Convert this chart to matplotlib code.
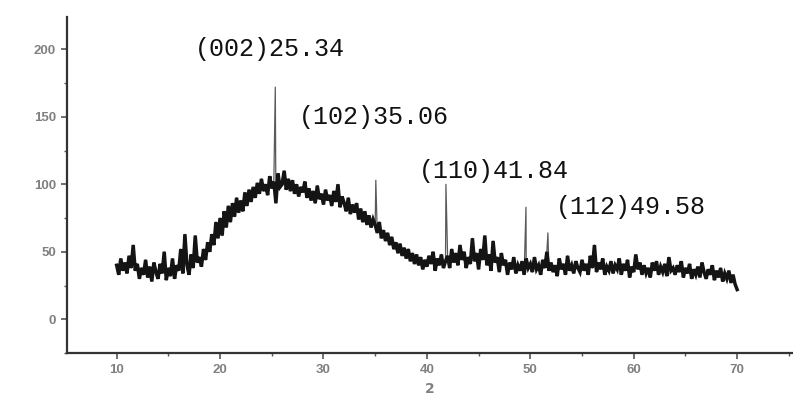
import numpy as np
import matplotlib.pyplot as plt
from matplotlib.ticker import MultipleLocator

# 2theta grid (0.2 deg steps, 10..70) and intensities
two_theta = np.round(np.arange(10.0, 70.01, 0.2), 1)
intensity = [
    40, 33, 45, 36, 42,   34, 47, 38, 55, 36,   41, 30, 38, 33, 44,   # 10-12
    31, 39, 28, 42, 35,   30, 41, 34, 50, 29,   38, 32, 45, 30, 40,   # 13-15
    36, 52, 34, 63, 40,   33, 48, 38, 62, 42,   46, 39, 52, 44, 57,   # 16-18
    50, 63, 55, 72, 60,   75, 62, 80, 68, 84,   72, 86, 76, 90, 79,   # 19-21
    88, 80, 94, 84, 96,   87, 98, 90, 101, 93,  104, 95, 100, 92, 106, # 22-24
    97, 102, 86, 108, 98, 100, 110, 96, 104, 95, 103, 93, 100, 91, 98, # 25-27
    94, 102, 90, 97, 88,  95, 86, 99, 89, 93,   85, 96, 88, 92, 84,   # 28-30
    95, 87, 100, 83, 91,  86, 80, 90, 78, 85,   79, 86, 74, 82, 72,   # 31-33
    80, 70, 77, 68, 74,   70, 64, 72, 60, 66,   58, 64, 55, 61, 52,   # 34-36
    57, 49, 56, 47, 53,   45, 52, 43, 49, 41,   48, 40, 46, 37, 44,   # 37-39
    39, 47, 41, 50, 36,   45, 40, 48, 38, 43,   47, 38, 52, 42, 49,   # 40-42
    40, 55, 44, 50, 38,   46, 41, 60, 43, 49,   37, 52, 44, 62, 40,   # 43-45
    48, 36, 58, 42, 46,   35, 49, 40, 44, 33,   42, 37, 46, 34, 40,   # 46-48
    36, 43, 33, 45, 38,   41, 35, 46, 37, 40,   33, 44, 38, 50, 36,   # 49-51
    42, 35, 40, 32, 45,   37, 41, 33, 47, 36,   40, 34, 43, 38, 35,   # 52-54
    44, 36, 41, 33, 47,   38, 55, 35, 42, 37,   45, 33, 39, 36, 43,   # 55-57
    34, 40, 37, 45, 33,   41, 36, 44, 31, 39,   35, 48, 37, 42, 33,   # 58-60
    40, 34, 38, 31, 42,   36, 43, 33, 39, 35,   41, 32, 46, 36, 38,   # 61-63
    33, 40, 35, 43, 31,   38, 34, 41, 30, 37,   33, 39, 31, 42, 35,   # 64-66
    30, 37, 33, 40, 29,   36, 31, 38, 28, 34,   30, 36, 27, 33, 26,   # 67-69
    22,
]

# sharp reflections (the thin spikes)
peak_pos = [25.34, 35.06, 41.84, 49.58, 51.7]
peak_int = [172, 103, 100, 83, 64]
peak_labels = ['(002)25.34', '(102)35.06', '(110)41.84', '(112)49.58']
label_xy = [(17.6, 200), (27.6, 150), (39.2, 110), (52.5, 83)]

x = np.concatenate([two_theta, peak_pos])
y = np.concatenate([intensity, peak_int])
order = np.argsort(x)
x, y = x[order], y[order]

fig = plt.figure(figsize=(7.93, 4.01), dpi=100)
ax = fig.add_axes([0.0845, 0.1197, 0.9155, 0.838])
# thin trace carrying the sharp peaks, thick noisy band on top
ax.plot(x, y, color='#5a5a5a', lw=0.9)
ax.plot(two_theta, intensity, color='#141414', lw=2.5, solid_joinstyle='miter')

ax.set_xlim(5.2, 75.4)
ax.set_ylim(-25, 224)
ax.xaxis.set_major_locator(MultipleLocator(10))
ax.xaxis.set_minor_locator(MultipleLocator(5))
ax.yaxis.set_major_locator(MultipleLocator(50))
ax.yaxis.set_minor_locator(MultipleLocator(25))
ax.set_yticks([0, 50, 100, 150, 200])

for s in ['top', 'right']:
    ax.spines[s].set_visible(False)
for s in ['left', 'bottom']:
    ax.spines[s].set_color('#333333')
    ax.spines[s].set_linewidth(1.6)

ax.tick_params(which='major', direction='out', length=4, width=1.2,
               colors='#555555', labelcolor='#808080', labelsize=9.5, pad=4)
ax.tick_params(which='minor', direction='out', length=2.5, width=1.0, colors='#555555')
for lab in ax.get_xticklabels() + ax.get_yticklabels():
    lab.set_fontweight('bold')
    lab.set_family('Liberation Sans')

ax.set_xlabel('2', color='#808080', fontsize=10, fontweight='bold', labelpad=4)

for (lx, ly), txt in zip(label_xy, peak_labels):
    ax.text(lx, ly, txt, fontsize=18, family='Liberation Mono',
            color='#111111', ha='left', va='center')

fig.savefig('out.png', dpi=100)
